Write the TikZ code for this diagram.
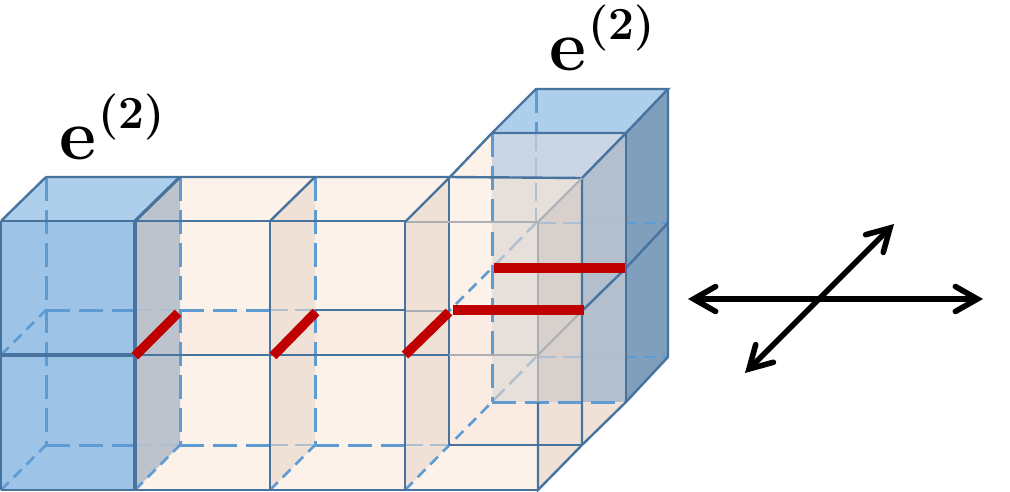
\documentclass[tikz,border=0pt]{standalone}
\usetikzlibrary{arrows.meta}
\definecolor{edgeC}{HTML}{47739F}
\definecolor{hidC}{HTML}{5F9BD3}
\definecolor{faintC}{HTML}{AEBFD2}
\definecolor{greyC}{HTML}{ABAFB4}
\definecolor{blueF}{HTML}{9DC3E6}
\definecolor{blueT}{HTML}{AECFEB}
\definecolor{blueS}{HTML}{7F9FBD}
\definecolor{greyS}{HTML}{BCC3CC}
\definecolor{peachF}{HTML}{FDF2EA}
\definecolor{peachS}{HTML}{F0E1D7}
\definecolor{peachD}{HTML}{FAECE2}
\definecolor{ovA}{HTML}{CBD6E4}
\definecolor{ovB}{HTML}{B3BFCC}
\definecolor{ovC}{HTML}{E7DFDA}
\definecolor{ovD}{HTML}{D7D0CD}
\definecolor{redC}{HTML}{C00000}
\tikzset{
  edgeline/.style={draw=edgeC,line width=2.4pt},
  thickedge/.style={draw=edgeC,line width=3.2pt},
  hidden/.style={draw=hidC,line width=3pt,dash pattern=on 24pt off 9pt},
  hiddenshort/.style={draw=hidC,line width=2.6pt,dash pattern=on 11pt off 7pt},
  faint/.style={draw=faintC,line width=2.4pt,dash pattern=on 18pt off 7pt},
  greyline/.style={draw=greyC,line width=2pt},
  redbar/.style={draw=redC,line width=9.5pt},
  bigarrow/.style={draw=black,line width=5.6pt,{Straight Barb[length=22pt,width=25pt,line cap=round]}-{Straight Barb[length=22pt,width=25pt,line cap=round]}},
  lab/.style={inner sep=0pt,anchor=base west,font=\fontsize{72}{72}\selectfont\bfseries}
}
\begin{document}
\begin{tikzpicture}[x=1pt,y=-1pt]
\useasboundingbox (0,0) rectangle (1010,492);
% ---- peach body
\fill[peachF] (135,221) -- (180,177) -- (449,177) -- (492,133) -- (492,178) -- (582,178) -- (582,445) -- (538,490) -- (135,490) -- cycle;
\fill[peachD] (135,355) -- (180,310) -- (582,311) -- (538,355) -- cycle;
\fill[peachS] (270,221) -- (315,177) -- (315,445) -- (270,490) -- cycle;
\fill[peachS] (405,222) -- (449,178) -- (449,445) -- (405,490) -- cycle;
\fill[peachD] (449,355) -- (582,355) -- (582,445) -- (449,445) -- cycle;
\fill[peachS] (538,402) -- (582,402) -- (582,445) -- (538,490) -- cycle;
% ---- right blue stack
\fill[blueT] (492,133) -- (536,89) -- (668,89) -- (626,133) -- cycle;
\fill[blueS] (626,133) -- (668,89) -- (668,357) -- (626,402) -- cycle;
\fill[ovA] (492,133) -- (626,133) -- (582,178) -- (492,178) -- cycle;
\fill[ovB] (582,178) -- (626,133) -- (626,402) -- (582,402) -- cycle;
\fill[peachS] (582,402) -- (626,402) -- (582,445) -- cycle;
\fill[ovC] (492,178) -- (582,178) -- (538,222) -- (538,402) -- (492,402) -- cycle;
\fill[ovD] (538,222) -- (582,178) -- (582,402) -- (538,402) -- cycle;
% ---- left blue stack
\fill[blueF] (1,221) rectangle (135,490);
\fill[blueT] (1,221) -- (46,177) -- (180,177) -- (135,221) -- cycle;
\fill[greyS] (135,221) -- (180,177) -- (180,445) -- (135,490) -- cycle;
% ---- hidden edges
\draw[hidden] (46,177) -- (46,445);
\draw[hiddenshort] (1,355) -- (46,310);
\draw[hiddenshort] (1,490) -- (46,445);
\draw[hidden] (46,310) -- (135,310);
\draw[hidden] (46,445) -- (135,445);
\draw[faint] (135,310) -- (180,310);
\draw[faint] (135,445) -- (180,445);
\draw[hidden] (180,177) -- (180,445);
\draw[hidden] (180,310) -- (270,310);
\draw[hidden] (180,445) -- (270,445);
\draw[hiddenshort] (135,490) -- (180,445);
\draw[faint] (270,310) -- (315,310);
\draw[faint] (270,445) -- (315,445);
\draw[hidden] (315,177) -- (315,445);
\draw[hidden] (315,445) -- (405,445);
\draw[hiddenshort] (270,490) -- (315,445);
\draw[edgeline] (315,310) -- (405,310);
\draw[faint] (405,445) -- (449,445);
\draw[greyline] (405,311) -- (449,311);
\draw[hiddenshort] (405,490) -- (492,402);
\draw[hiddenshort] (405,355) -- (492,268);
\draw[faint] (492,402) -- (536,357);
\draw[faint] (492,268) -- (536,223);
\draw[hidden] (536,89) -- (536,133);
\draw[faint] (536,133) -- (536,223);
\draw[hidden] (492,133) -- (492,402);
\draw[hidden] (492,402) -- (626,402);
\draw[faint] (538,223) -- (626,223);
\draw[faint] (538,357) -- (626,357);
\draw[hiddenshort] (626,223) -- (668,223);
\draw[hiddenshort] (626,357) -- (668,357);
\draw[edgeline] (449,445) -- (582,445);
% ---- solid edges
\draw[edgeline] (492,133) -- (626,133) -- (668,89) -- (536,89) -- (492,133) -- (449,178);
\draw[edgeline] (668,89) -- (668,357) -- (626,402) -- (582,445);
\draw[edgeline] (626,133) -- (626,402);
\draw[edgeline] (582,178) -- (626,133);
\draw[edgeline] (582,311) -- (626,268);
\draw[edgeline] (626,268) -- (668,223);
\draw[edgeline] (46,177) -- (449,177) -- (582,178) -- (582,445);
\draw[edgeline] (449,178) -- (449,445);
\draw[edgeline] (1,221) -- (405,221);
\draw[greyline] (405,222) -- (538,222) -- (538,402);
\draw[greyline] (538,222) -- (582,178);
\draw[greyline] (538,355) -- (582,311);
\draw[greyline] (449,355) -- (538,355);
\draw[edgeline] (135,355) -- (449,355);
\draw[edgeline] (538,402) -- (538,490) -- (582,445);
\draw[edgeline] (1,490) -- (538,490);
\draw[edgeline] (1,221) -- (46,177);
\draw[edgeline] (1,221) -- (1,490);
\draw[edgeline] (270,221) -- (270,490);
\draw[edgeline] (405,222) -- (405,490);
\draw[edgeline] (270,221) -- (315,177);
\draw[edgeline] (405,222) -- (449,178);
\draw[thickedge] (135,221) -- (180,177);
\draw[thickedge] (135,221) -- (135,490);
\draw[thickedge] (1,355) -- (135,355);
% ---- red bars
\draw[redbar] (135,356) -- (178,313);
\draw[redbar] (273,356) -- (316,312);
\draw[redbar] (405,355) -- (449,312);
\draw[redbar] (453,310) -- (584,310);
\draw[redbar] (494,268) -- (625,268);
% ---- labels
\node[lab] (labL) at (59,160) {e\raisebox{31pt}{\hspace{2pt}\fontsize{46}{46}\selectfont (2)}};
\node[lab] (labR) at (549,71) {e\raisebox{31pt}{\hspace{2pt}\fontsize{46}{46}\selectfont (2)}};
% ---- arrows
\coordinate (hW) at (688,299);
\coordinate (hE) at (983,299);
\coordinate (dSW) at (745,373);
\coordinate (dNE) at (894,224);
\draw[bigarrow] (hW) -- (hE);
\draw[bigarrow] (dSW) -- (dNE);
\end{tikzpicture}
\end{document}
